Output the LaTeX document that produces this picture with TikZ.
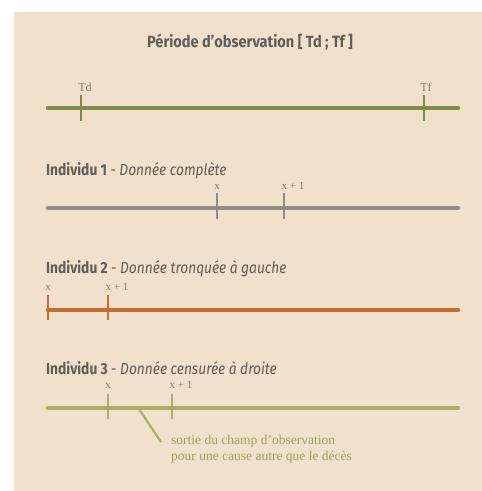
\documentclass[tikz,border=0pt]{standalone}
\usepackage{fontspec}
\setmainfont{Liberation Serif}
\newfontfamily\headfont[FakeStretch=0.86]{Fira Sans}
\newfontfamily\titlefont[FakeStretch=0.9]{Fira Sans}
\definecolor{bg}{HTML}{F1E0CC}
\definecolor{titlegray}{HTML}{5E5E58}
\definecolor{lgreen}{HTML}{7F8A47}
\definecolor{lgray}{HTML}{8E8C84}
\definecolor{lorange}{HTML}{C46E34}
\definecolor{lolive}{HTML}{ABAE67}
\definecolor{tolive}{HTML}{9CA25C}
\tikzset{
  tl/.style={line width=4.5pt, line cap=round},
  tk/.style={line width=2.2pt},
  lab/.style={font=\fontsize{11}{12}\selectfont, text=lgray!90!black, inner sep=0pt, anchor=base},
  hd/.style={font=\headfont\fontsize{16}{18}\selectfont, text=titlegray, inner sep=0pt, anchor=base west},
}
\begin{document}
\begin{tikzpicture}[x=1pt,y=-1pt]
\useasboundingbox (0,0) rectangle (482,491);
\fill[bg] (14,12) rectangle (482,491);
% title
\node[hd, anchor=base, font=\titlefont\bfseries\fontsize{16.2}{18}\selectfont] (title) at (250,47) {Période d’observation [ Td ; Tf ]};
% line 0
\coordinate (a0) at (48,108); \coordinate (b0) at (458,108);
\draw[tl, lgreen] (a0) -- (b0);
\coordinate (td1) at (81,95); \coordinate (td2) at (81,121);
\coordinate (tf1) at (424,95); \coordinate (tf2) at (424,121);
\draw[tk, lgreen] (td1) -- (td2);
\draw[tk, lgreen] (tf1) -- (tf2);
\node[lab, font=\fontsize{12}{13}\selectfont] (tdl) at (85,91) {Td};
\node[lab, font=\fontsize{12}{13}\selectfont] (tfl) at (426,91) {Tf};
% Individu 1
\node[hd] (h1) at (46,175) {\bfseries Individu 1 \mdseries - \itshape Donnée complète};
\coordinate (a1) at (48,208); \coordinate (b1) at (458,208);
\draw[tl, lgray] (a1) -- (b1);
\coordinate (x1a) at (217,193); \coordinate (x1b) at (217,219);
\coordinate (y1a) at (284,193); \coordinate (y1b) at (284,219);
\draw[tk, lgray] (x1a) -- (x1b);
\draw[tk, lgray] (y1a) -- (y1b);
\node[lab] (x1l) at (217,189) {x};
\node[lab, anchor=base west] (y1l) at (281.5,189) {x + 1};
% Individu 2
\node[hd] (h2) at (46,273) {\bfseries Individu 2 \mdseries - \itshape Donnée tronquée à gauche};
\coordinate (a2) at (48,310); \coordinate (b2) at (458,310);
\draw[tl, lorange] (a2) -- (b2);
\coordinate (x2a) at (48,295); \coordinate (x2b) at (48,320);
\coordinate (y2a) at (108,295); \coordinate (y2b) at (108,320);
\draw[tk, lorange] (x2a) -- (x2b);
\draw[tk, lorange] (y2a) -- (y2b);
\node[lab] (x2l) at (48,290) {x};
\node[lab, anchor=base west] (y2l) at (105.5,290) {x + 1};
% Individu 3
\node[hd] (h3) at (46,374) {\bfseries Individu 3 \mdseries - \itshape Donnée censurée à droite};
\coordinate (a3) at (48,408); \coordinate (b3) at (458,408);
\draw[tl, lolive] (a3) -- (b3);
\coordinate (x3a) at (108,394); \coordinate (x3b) at (108,419);
\coordinate (y3a) at (172,394); \coordinate (y3b) at (172,419);
\draw[tk, lolive] (x3a) -- (x3b);
\draw[tk, lolive] (y3a) -- (y3b);
\node[lab] (x3l) at (108,388) {x};
\node[lab, anchor=base west] (y3l) at (169.5,388) {x + 1};
\coordinate (ld1) at (139,409); \coordinate (ld2) at (161,442);
\draw[tk, lolive] (ld1) -- (ld2);
\node[font=\fontsize{13.5}{16}\selectfont, text=tolive, inner sep=0pt, anchor=north west, align=left] (note) at (171,435) {sortie du champ d’observation\\pour une cause autre que le décès};
\end{tikzpicture}
\end{document}
